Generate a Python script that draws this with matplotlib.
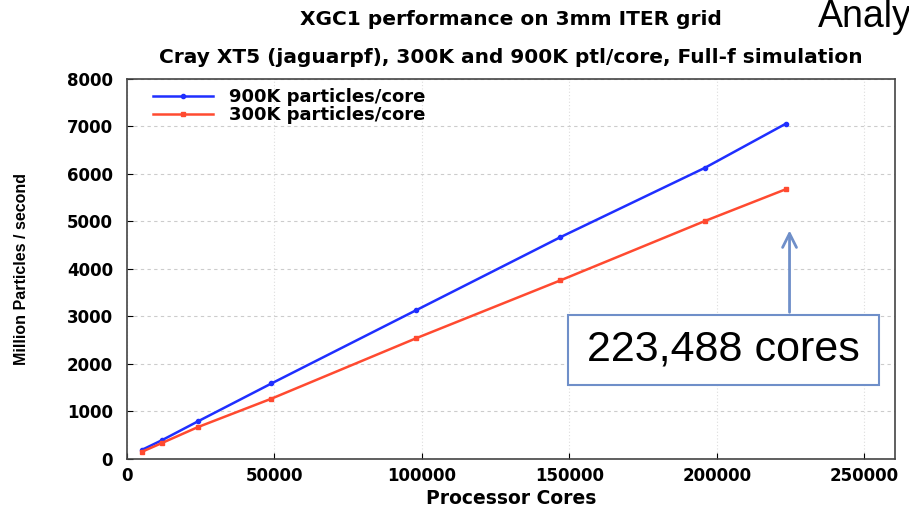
import matplotlib
matplotlib.use("Agg")
import matplotlib.pyplot as plt
from matplotlib.patches import Rectangle

plt.rcParams['font.family'] = ['Liberation Sans', 'DejaVu Sans']

# data
cores = [5000, 12000, 24000, 49000, 98000, 147000, 196000, 223488]
rate_900k = [190, 400, 790, 1590, 3130, 4670, 6130, 7060]
rate_300k = [150, 340, 670, 1270, 2540, 3760, 5010, 5680]

labels = ["900K particles/core", "300K particles/core"]
xticks = [0, 50000, 100000, 150000, 200000, 250000]
yticks = [0, 1000, 2000, 3000, 4000, 5000, 6000, 7000, 8000]

callout = "223,488 cores"
arrow_color = "#6f8fc9"
wide = "DejaVu Sans"

fig = plt.figure(figsize=(9.09, 5.08), dpi=100)
ax = fig.add_axes([0.1397, 0.0965, 0.845, 0.748])

ax.plot(cores, rate_900k, color="#1f2fff", lw=1.8, marker="o", ms=3, label=labels[0])
ax.plot(cores, rate_300k, color="#ff4a30", lw=1.8, marker="s", ms=3.5, label=labels[1])

ax.set_xlim(0, 260500)
ax.set_ylim(0, 8000)
ax.set_xticks(xticks)
ax.set_yticks(yticks)
ax.tick_params(direction="in", length=4)
for t in ax.get_xticklabels() + ax.get_yticklabels():
    t.set_fontweight("bold")
    t.set_family(wide)
    t.set_fontsize(12)
ax.tick_params(axis="x", pad=6)
ax.tick_params(axis="y", pad=10)

ax.grid(axis="y", color="#cccccc", ls=(0, (3, 3)), lw=0.8)
ax.grid(axis="x", color="#dddddd", ls=(0, (1, 2)), lw=0.8)
for s in ax.spines.values():
    s.set_color("#444444")
    s.set_linewidth(1.2)

ax.set_xlabel("Processor Cores", fontsize=13.5, fontweight="bold", family=wide, labelpad=3)
ax.set_ylabel("Million Particles / second", fontsize=11.5, fontweight="bold")
ax.yaxis.set_label_coords(-0.128, 0.5)

leg = ax.legend(loc="upper left", frameon=False, handlelength=3.3,
                prop={"family": wide, "weight": "bold", "size": 13},
                borderaxespad=0.2, labelspacing=0.0, handletextpad=0.9,
                bbox_to_anchor=(0.02, 1.005))

# callout box and arrow
box_x0, box_x1 = 149500, 255000
box_y0, box_y1 = 1560, 3030
ax.add_patch(Rectangle((box_x0, box_y0), box_x1 - box_x0, box_y1 - box_y0,
                       fill=True, facecolor="white", edgecolor=arrow_color, lw=1.5, zorder=5))
ax.text((box_x0 + box_x1) / 2, (box_y0 + box_y1) / 2, callout, fontsize=31,
        ha="center", va="center", zorder=6)
ax.annotate("", xy=(224700, 4870), xytext=(224700, box_y1),
            arrowprops=dict(arrowstyle="->", color=arrow_color, lw=2, mutation_scale=25),
            zorder=5)

fig.text(0.5618, 0.962, "XGC1 performance on 3mm ITER grid", fontsize=14.5,
         fontweight="bold", family=wide, ha="center", va="center")
fig.text(0.5618, 0.886, "Cray XT5 (jaguarpf), 300K and 900K ptl/core, Full-f simulation",
         fontsize=14.5, fontweight="bold", family=wide, ha="center", va="center")
fig.text(0.9, 0.947, "Analy", fontsize=27, ha="left", va="baseline")

fig.savefig("out.png", dpi=100)
